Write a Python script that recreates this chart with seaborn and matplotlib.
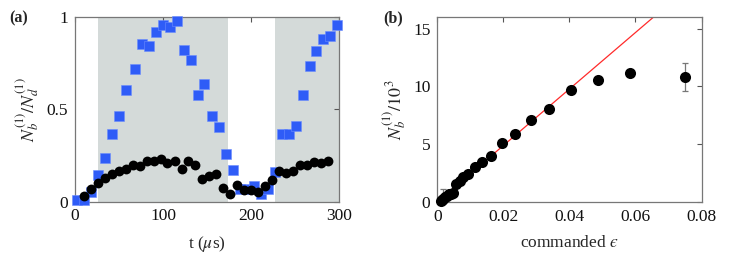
import matplotlib
matplotlib.use("Agg")
import matplotlib.pyplot as plt
import seaborn as sns
import pandas as pd
import numpy as np

# ---- Panel (a) data ----
t_blue = [2, 10, 18, 26, 34, 42, 50, 58, 68, 76, 84, 92, 100, 108, 115.5, 124, 132, 139.6,
          147, 155.5, 163.4, 171.4, 179.3, 187.3, 195.2, 203.1, 211, 219, 227, 234.8, 242.7,
          250.6, 258.6, 266.5, 274, 282, 290, 298]
v_blue = [0.01, 0.01, 0.053, 0.144, 0.238, 0.365, 0.463, 0.602, 0.718, 0.854, 0.845, 0.921,
          0.959, 0.945, 0.977, 0.823, 0.765, 0.577, 0.635, 0.465, 0.403, 0.258, 0.17, 0.066,
          0.066, 0.086, 0.039, 0.066, 0.159, 0.368, 0.368, 0.409, 0.577, 0.733, 0.818, 0.879,
          0.899, 0.959]
t_black = [10.2, 18.1, 26, 34, 41.9, 49.8, 57.8, 65.7, 73.6, 81.5, 89.5, 97.4, 105, 113.3,
           121.2, 128.8, 136.7, 144.6, 152.5, 160.4, 168.4, 176.3, 184.2, 192.2, 200.1, 208,
           216, 223.9, 231.8, 239.7, 247.7, 255.6, 263.5, 271.5, 279.4, 287.3]
v_black = [0.032, 0.068, 0.1, 0.126, 0.151, 0.168, 0.178, 0.198, 0.195, 0.222, 0.22, 0.231,
           0.211, 0.218, 0.177, 0.22, 0.2, 0.123, 0.14, 0.151, 0.075, 0.041, 0.088, 0.061,
           0.061, 0.052, 0.084, 0.119, 0.164, 0.153, 0.166, 0.2, 0.198, 0.216, 0.211, 0.222]
shade_spans = [(26.5, 173.5), (227.5, 300)]

# ---- Panel (b) data ----
eps = [0.0010, 0.0014, 0.0018, 0.0023, 0.0028, 0.0035, 0.0042, 0.0048, 0.0057, 0.0069,
       0.0079, 0.0093, 0.0113, 0.0134, 0.0163, 0.0196, 0.0235, 0.0283, 0.0338, 0.0406,
       0.0487, 0.0584, 0.0750]
nb = [0.05, 0.15, 0.25, 0.40, 0.55, 0.65, 0.72, 0.80, 1.58, 1.78, 2.14, 2.40, 3.0, 3.48,
      4.0, 5.1, 5.86, 7.06, 8.04, 9.65, 10.58, 11.15, 10.83]
err_eps = [0.0018, 0.0750]
err_nb = [0.25, 10.80]
err_size = [0.85, 1.18]
fit_eps = [0.0, 0.0655]
fit_nb = [0.0, 16.0]

sns.set_style("white")
plt.rcParams['font.family'] = ['Liberation Serif', 'DejaVu Serif']
plt.rcParams['mathtext.fontset'] = 'stix'
plt.rcParams['font.size'] = 11

fig = plt.figure(figsize=(7.47, 2.64), dpi=100)
axa = fig.add_axes([0.1004, 0.2367, 0.3534, 0.699])
axb = fig.add_axes([0.5854, 0.2348, 0.3537, 0.7008])

spine_col = '#777777'

# Panel (a)
for a, b in shade_spans:
    axa.axvspan(a, b, color='#d4dad9', lw=0, zorder=0)
dfb = pd.DataFrame({'t': t_blue, 'v': v_blue})
dfk = pd.DataFrame({'t': t_black, 'v': v_black})
sns.scatterplot(data=dfb, x='t', y='v', ax=axa, marker='s', s=42, color='#2f5cf7',
                edgecolor='#6b8cff', linewidth=0.4, zorder=3, clip_on=False)
sns.scatterplot(data=dfk, x='t', y='v', ax=axa, marker='o', s=50, color='black',
                edgecolor='black', linewidth=0, zorder=4, clip_on=False)
axa.set_xlim(0, 300)
axa.set_ylim(0, 1)
axa.set_xticks([0, 100, 200, 300])
axa.set_yticks([0, 0.5, 1])
axa.set_yticklabels(['0', '0.5', '1'])
axa.set_xlabel('t ($\\mu$s)', fontsize=12.5, labelpad=7)
axa.set_ylabel(r'$N_b^{(1)}/N_d^{(1)}$', fontsize=13, labelpad=3)

# Panel (b)
sns.lineplot(x=fit_eps, y=fit_nb, ax=axb, color='#ff2a2a', lw=0.9, zorder=2)
axb.errorbar(err_eps, err_nb, yerr=err_size, fmt='none', ecolor='#777777',
             elinewidth=0.9, capsize=2.5, capthick=0.9, zorder=3)
dfe = pd.DataFrame({'eps': eps, 'nb': nb})
sns.scatterplot(data=dfe, x='eps', y='nb', ax=axb, marker='o', s=64, color='black',
                edgecolor='black', linewidth=0, zorder=4, clip_on=False)
axb.set_xlim(0, 0.08)
axb.set_ylim(0, 16)
axb.set_xticks([0, 0.02, 0.04, 0.06, 0.08])
axb.set_xticklabels(['0', '0.02', '0.04', '0.06', '0.08'])
axb.set_yticks([0, 5, 10, 15])
axb.set_xlabel('commanded $\u03f5$', fontsize=12.5, labelpad=7)
axb.set_ylabel(r'$N_b^{(1)}/10^3$', fontsize=13, labelpad=3)

for ax in (axa, axb):
    for sp in ax.spines.values():
        sp.set_visible(True)
        sp.set_color(spine_col)
        sp.set_linewidth(0.9)
    ax.tick_params(direction='in', top=True, right=True, length=3.5, width=0.8,
                   color='#555555', labelsize=12.5, pad=5, labelcolor='#111111')

fig.text(0.012, 0.915, '(a)', fontweight='bold', fontsize=11.5)
fig.text(0.513, 0.915, '(b)', fontweight='bold', fontsize=11.5)

fig.savefig('out.png', dpi=100)
